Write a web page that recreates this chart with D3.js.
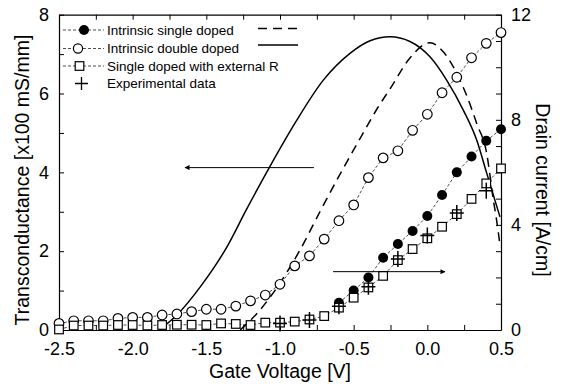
<!DOCTYPE html>
<html>
<head>
<meta charset="utf-8">
<script src="https://cdn.jsdelivr.net/npm/d3@7"></script>
<style>
  body { margin: 0; background: #fff; }
  text { font-family: "Liberation Sans", Arial, sans-serif; fill: #000; }
</style>
</head>
<body>
<div id="chart"></div>
<script>
// gate voltage steps for the simulated drain current points
const volts = [-2.5, -2.4, -2.3, -2.2, -2.1, -2.0, -1.9, -1.8, -1.7, -1.6, -1.5,
               -1.4, -1.3, -1.2, -1.1, -1.0, -0.9, -0.8, -0.7, -0.6, -0.5,
               -0.4, -0.3, -0.2, -0.1, 0.0, 0.1, 0.2, 0.3, 0.4, 0.5];

// drain current [A/cm], right axis
const currentDouble = [0.25, 0.35, 0.35, 0.35, 0.44, 0.48, 0.48, 0.57, 0.61, 0.7, 0.79,
                       0.79, 0.91, 1.11, 1.33, 1.74, 2.44, 2.82, 3.46, 4.16, 4.76,
                       5.8, 6.55, 6.82, 7.6, 8.21, 9.03, 9.62, 10.36, 10.91, 11.32];
const currentExtR = [0.02, 0.17, 0.17, 0.17, 0.19, 0.19, 0.17, 0.19, 0.2, 0.2, 0.19,
                     0.25, 0.23, 0.19, 0.28, 0.28, 0.32, 0.4, 0.53, 0.85, 1.23,
                     1.62, 2.06, 2.66, 3.08, 3.49, 3.93, 4.41, 4.99, 5.58, 6.15];
const voltsSingle = [-0.6, -0.5, -0.4, -0.3, -0.2, -0.1, 0.0, 0.1, 0.2, 0.3, 0.4, 0.5];
const currentSingle = [1.04, 1.5, 2.0, 2.75, 3.27, 3.77, 4.34, 5.14, 6.0, 6.6, 7.2, 7.64];
const voltsExp = [-1.0, -0.8, -0.6, -0.4, -0.2, 0.0, 0.2, 0.4];
const currentExp = [0.25, 0.38, 0.9, 1.65, 2.7, 3.6, 4.45, 5.3];

// transconductance [x100 mS/mm], left axis
const gmSingleV = [-1.27, -1.147, -0.864, -0.729, -0.593, -0.435, -0.34, -0.253, -0.118, 0.018,
                   0.108, 0.2, 0.27, 0.335, 0.403, 0.448, 0.47, 0.495];
const gmSingle = [0, 0.46, 2.03, 3.0, 3.95, 5.0, 5.62, 6.12, 6.9, 7.29,
                  7.06, 6.51, 5.92, 5.24, 4.48, 3.3, 2.79, 2.1];
const gmDoubleV = [-1.82, -1.70, -1.54, -1.36, -1.23, -1.07, -0.89, -0.706, -0.525,
                   -0.389, -0.253, -0.118, 0.018, 0.131, 0.244, 0.335, 0.403, 0.493];
const gmDouble = [0, 0.38, 1.1, 2.11, 3.04, 4.14, 5.3, 6.34, 7.02,
                  7.34, 7.44, 7.32, 6.93, 6.34, 5.58, 4.82, 3.98, 2.87];

const xTicks = [-2.5, -2.0, -1.5, -1.0, -0.5, 0.0, 0.5];
const leftTicks = [0, 2, 4, 6, 8];
const rightTicks = [0, 4, 8, 12];

const legendLabels = ["Intrinsic single doped", "Intrinsic double doped",
                      "Single doped with external R", "Experimental data"];

const W = 570, H = 392;
const margin = {top: 14.7, right: 69, bottom: 62, left: 59};
const width = W - margin.left - margin.right,
      height = H - margin.top - margin.bottom;

const svg = d3.select("#chart").append("svg")
    .attr("width", W).attr("height", H);
const g = svg.append("g")
    .attr("transform", "translate(" + margin.left + "," + margin.top + ")");

const x = d3.scaleLinear().domain([-2.5, 0.5]).range([0, width]);
const yL = d3.scaleLinear().domain([0, 8]).range([height, 0]);
const yR = d3.scaleLinear().domain([0, 12]).range([height, 0]);

const minorX = d3.range(-2.5, 0.5001, 0.25);

// axes, ticks pointing inward
function styleAxis(sel) {
  sel.selectAll("path").attr("stroke", "#000").attr("stroke-width", 1.2);
  sel.selectAll("line").attr("stroke", "#000").attr("stroke-width", 1);
  sel.selectAll("text").style("font-size", "18px");
}
g.append("g").attr("transform", "translate(0," + height + ")")
  .call(d3.axisBottom(x).tickValues(minorX).tickSizeInner(-5).tickSizeOuter(0)
        .tickPadding(12)
        .tickFormat(d => xTicks.some(t => Math.abs(t - d) < 1e-6) ? d.toFixed(1) : ""))
  .call(styleAxis);
g.append("g")
  .call(d3.axisTop(x).tickValues(minorX).tickSizeInner(-5).tickSizeOuter(0).tickFormat(""))
  .call(styleAxis);
g.append("g")
  .call(d3.axisLeft(yL).tickValues(d3.range(0, 8.01, 1)).tickSizeInner(-5).tickSizeOuter(0)
        .tickPadding(10).tickFormat(d => leftTicks.includes(d) ? d : ""))
  .call(styleAxis);
g.append("g").attr("transform", "translate(" + width + ",0)")
  .call(d3.axisRight(yR).tickValues(d3.range(0, 12.01, 1)).tickSizeInner(-5).tickSizeOuter(0)
        .tickPadding(10).tickFormat(d => rightTicks.includes(d) ? d : ""))
  .call(styleAxis);

// axis titles
svg.append("text").attr("x", margin.left + width / 2).attr("y", 378)
  .attr("text-anchor", "middle").style("font-size", "19.5px").text("Gate Voltage [V]");
svg.append("text").attr("transform", "translate(22,180) rotate(-90)")
  .attr("text-anchor", "middle").attr("dominant-baseline", "central")
  .style("font-size", "19.5px").text("Transconductance [x100 mS/mm]");
svg.append("text").attr("transform", "translate(543,190) rotate(90)")
  .attr("text-anchor", "middle").attr("dominant-baseline", "central")
  .style("font-size", "19.5px").text("Drain current [A/cm]");

// transconductance curves
const lineL = d3.line().x(d => x(d[0])).y(d => yL(d[1])).curve(d3.curveMonotoneX);
g.append("path").datum(d3.zip(gmSingleV, gmSingle))
  .attr("d", lineL).attr("fill", "none").attr("stroke", "#000")
  .attr("stroke-width", 1.5).attr("stroke-dasharray", "9,6");
g.append("path").datum(d3.zip(gmDoubleV, gmDouble))
  .attr("d", lineL).attr("fill", "none").attr("stroke", "#000").attr("stroke-width", 1.5);

// drain current series
const lineR = d3.line().x(d => x(d[0])).y(d => yR(d[1]));
function connector(xs, ys) {
  g.append("path").datum(d3.zip(xs, ys)).attr("d", lineR)
    .attr("fill", "none").attr("stroke", "#000").attr("stroke-width", 0.7)
    .attr("stroke-dasharray", "3,2");
}
connector(volts, currentDouble);
connector(voltsSingle, currentSingle);
connector(volts, currentExtR);

g.append("g").selectAll("circle").data(d3.zip(volts, currentDouble)).join("circle")
  .attr("cx", d => x(d[0])).attr("cy", d => yR(d[1])).attr("r", 4.8)
  .attr("fill", "#fff").attr("stroke", "#000").attr("stroke-width", 1.2);
g.append("g").selectAll("circle").data(d3.zip(voltsSingle, currentSingle)).join("circle")
  .attr("cx", d => x(d[0])).attr("cy", d => yR(d[1])).attr("r", 5)
  .attr("fill", "#000");
g.append("g").selectAll("rect").data(d3.zip(volts, currentExtR)).join("rect")
  .attr("x", d => x(d[0]) - 4.3).attr("y", d => yR(d[1]) - 4.3)
  .attr("width", 8.6).attr("height", 8.6)
  .attr("fill", "#fff").attr("stroke", "#000").attr("stroke-width", 1.2);
g.append("g").selectAll("path").data(d3.zip(voltsExp, currentExp)).join("path")
  .attr("d", d => { const cx = x(d[0]), cy = yR(d[1]);
    return `M${cx - 7},${cy}H${cx + 7}M${cx},${cy - 8}V${cy + 8}`; })
  .attr("stroke", "#000").attr("stroke-width", 1.5);

// arrows showing which axis each family belongs to
svg.append("defs").append("marker").attr("id", "ah")
  .attr("viewBox", "0 0 10 10").attr("refX", 9).attr("refY", 5)
  .attr("markerWidth", 7).attr("markerHeight", 5).attr("orient", "auto-start-reverse")
  .append("path").attr("d", "M0,0L10,5L0,10z").attr("fill", "#000");
g.append("line").attr("x1", x(-0.77)).attr("x2", x(-1.645))
  .attr("y1", yL(4.12)).attr("y2", yL(4.12))
  .attr("stroke", "#000").attr("stroke-width", 1).attr("marker-end", "url(#ah)");
g.append("line").attr("x1", x(-0.64)).attr("x2", x(0.12))
  .attr("y1", yR(2.22)).attr("y2", yR(2.22))
  .attr("stroke", "#000").attr("stroke-width", 1).attr("marker-end", "url(#ah)");

// legend
const rows = [30, 48.5, 66, 83.5];
const leg = svg.append("g");
rows.slice(0, 3).forEach(ry => {
  leg.append("line").attr("x1", 63).attr("x2", 104).attr("y1", ry).attr("y2", ry)
    .attr("stroke", "#000").attr("stroke-width", 0.7).attr("stroke-dasharray", "3,2");
});
leg.append("circle").attr("cx", 84).attr("cy", rows[0]).attr("r", 5).attr("fill", "#000");
leg.append("circle").attr("cx", 78).attr("cy", rows[1]).attr("r", 4.6)
  .attr("fill", "#fff").attr("stroke", "#000").attr("stroke-width", 1.2);
leg.append("rect").attr("x", 79.5 - 4.3).attr("y", rows[2] - 4.3).attr("width", 8.6).attr("height", 8.6)
  .attr("fill", "#fff").attr("stroke", "#000").attr("stroke-width", 1.2);
leg.append("path").attr("d", `M75,${rows[3]}H88M81.5,${rows[3] - 6.5}V${rows[3] + 6.5}`)
  .attr("stroke", "#000").attr("stroke-width", 1.3);
leg.selectAll("text.lbl").data(legendLabels).join("text").attr("class", "lbl")
  .attr("x", 107).attr("y", (d, i) => rows[i]).attr("dominant-baseline", "central")
  .style("font-size", "13.5px").text(d => d);
leg.append("line").attr("x1", 258).attr("x2", 298).attr("y1", 28.5).attr("y2", 28.5)
  .attr("stroke", "#000").attr("stroke-width", 1.5).attr("stroke-dasharray", "9,6");
leg.append("line").attr("x1", 258).attr("x2", 298).attr("y1", 45).attr("y2", 45)
  .attr("stroke", "#000").attr("stroke-width", 1.5);
</script>
</body>
</html>
